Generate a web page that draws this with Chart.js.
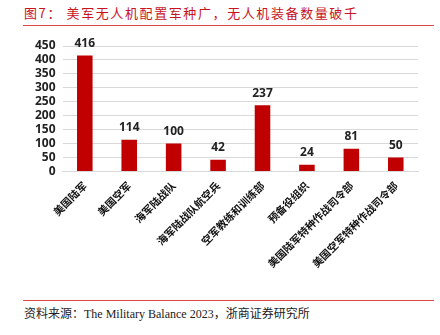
<!DOCTYPE html>
<html><head><meta charset="utf-8">
<script src="https://cdn.jsdelivr.net/npm/chart.js@4/dist/chart.umd.min.js"></script>
<style>
html,body{margin:0;padding:0;background:#fff;width:440px;height:335px;overflow:hidden;position:relative;font-family:"Noto Sans CJK SC",sans-serif}
#title{position:absolute;left:24px;top:3px;font-size:13px;color:#c8141e;font-family:"Noto Sans CJK SC",serif;white-space:nowrap;letter-spacing:1.6px}
#tline{position:absolute;left:23px;top:25px;width:411px;height:1px;background:#e04545}
#bline{position:absolute;left:23px;top:300px;width:411px;height:1px;background:#e04545}
#src{position:absolute;left:24px;top:304px;font-size:12px;color:#222;font-family:"Liberation Serif","Noto Sans CJK SC",serif;white-space:nowrap}
#wrap{position:absolute;left:0;top:30px;width:440px;height:248px}
</style></head>
<body>
<div id="title">图7：&nbsp;美军无人机配置军种广，无人机装备数量破千</div>
<div id="tline"></div>
<div id="wrap"><canvas id="c"></canvas></div>
<div id="bline"></div>
<div id="src">资料来源：The Military Balance 2023，浙商证券研究所</div>
<script>
const categories = ["美国陆军","美国空军","海军陆战队","海军陆战队航空兵","空军教练和训练部","预备役组织","美国陆军特种作战司令部","美国空军特种作战司令部"];
const values = [416,114,100,42,237,24,81,50];
const yTicks = [0,50,100,150,200,250,300,350,400,450];

const labelPlugin = {
  id:'barLabels',
  afterDatasetsDraw(chart){
    const ctx = chart.ctx;
    const meta = chart.getDatasetMeta(0);
    ctx.save();
    ctx.font = 'bold 12px "Open Sans", "DejaVu Sans", sans-serif';
    ctx.fillStyle = '#222';
    ctx.textAlign = 'center';
    ctx.textBaseline = 'bottom';
    meta.data.forEach((bar,i)=>{
      ctx.fillText(String(values[i]), bar.x, bar.y - 6);
    });
    ctx.restore();
  }
};

new Chart(document.getElementById('c'),{
  type:'bar',
  data:{labels:categories,datasets:[{data:values,backgroundColor:'#c00000',barPercentage:0.7,categoryPercentage:0.5}]},
  options:{
    responsive:true,maintainAspectRatio:false,animation:false,
    layout:{padding:{top:16,right:22,left:28,bottom:0}},
    plugins:{legend:{display:false},tooltip:{enabled:false}},
    scales:{
      x:{
        grid:{display:false,drawTicks:false},
        border:{color:'#d9d9d9',width:1},
        ticks:{maxRotation:45,minRotation:45,color:'#111',padding:8,font:{size:10.5,weight:'bold',family:'"Noto Sans CJK SC"'}}
      },
      y:{
        min:0,max:450,
        afterBuildTicks(scale){scale.ticks = yTicks.map(v=>({value:v}));},
        grid:{color:'#d9d9d9',drawTicks:false},
        border:{display:false},
        ticks:{autoSkip:false,color:'#222',padding:7,font:{size:12,weight:'bold',family:'"Open Sans", sans-serif'}}
      }
    }
  },
  plugins:[labelPlugin]
});
</script>
</body></html>
